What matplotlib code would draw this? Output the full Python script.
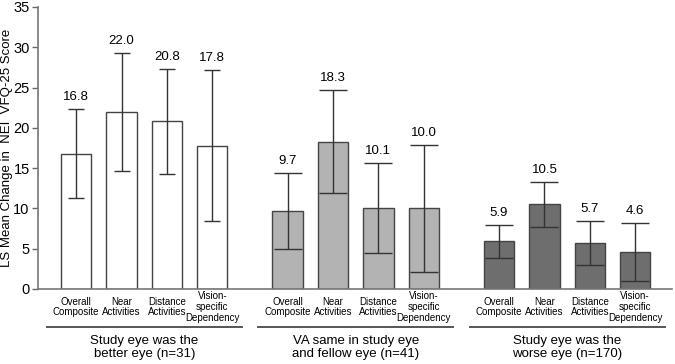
import matplotlib.pyplot as plt
from matplotlib import transforms

plt.rcParams.update({
    "font.family": ["Liberation Sans", "DejaVu Sans"],
    "axes.spines.top": False,
    "axes.spines.right": False,
})

# data
categories = ["Overall\nComposite", "Near\nActivities", "Distance\nActivities",
              "Vision-\nspecific\nDependency"]
groups = ["Study eye was the\nbetter eye (n=31)",
          "VA same in study eye\nand fellow eye (n=41)",
          "Study eye was the\nworse eye (n=170)"]
better_mean = [16.8, 22.0, 20.8, 17.8]
better_err = [5.5, 7.3, 6.5, 9.4]
same_mean = [9.7, 18.3, 10.1, 10.0]
same_err = [4.7, 6.4, 5.6, 7.9]
worse_mean = [5.9, 10.5, 5.7, 4.6]
worse_err = [2.05, 2.75, 2.7, 3.65]

means = [better_mean, same_mean, worse_mean]
errs = [better_err, same_err, worse_err]
colors = ["white", "#b3b3b3", "#6e6e6e"]
capsizes = [5.5, 10, 10]
group_gap = 4.66

fig = plt.figure(figsize=(6.75, 3.64), dpi=100)
ax = fig.add_axes([38 / 675, 75 / 364, 634 / 675, 282 / 364])
blend = transforms.blended_transform_factory(ax.transData, ax.transAxes)

for g in range(3):
    xs = [g * group_gap + i for i in range(4)]
    ax.bar(xs, means[g], width=0.67, color=colors[g], edgecolor="#444444",
           linewidth=1.0, zorder=2)
    ax.errorbar(xs, means[g], yerr=errs[g], fmt="none", ecolor="#333333",
                elinewidth=1.0, capsize=capsizes[g], capthick=1.0, zorder=3)
    for x, m, e in zip(xs, means[g], errs[g]):
        ax.annotate(f"{m:.1f}", xy=(x, m + e), xytext=(0, 6),
                    textcoords="offset pixels", ha="center", va="bottom",
                    fontsize=9.5)
    for x, c in zip(xs, categories):
        ax.annotate(c, xy=(x, 0), xycoords=blend, xytext=(0, -18),
                    textcoords="offset pixels", ha="center", va="center",
                    fontsize=7, linespacing=1.12)
    gc = g * group_gap + 1.5
    ax.plot([gc - 2.15, gc + 2.15], [-0.133, -0.133], transform=blend,
            color="#555555", linewidth=1.4, clip_on=False)
    ax.text(gc, -0.163, groups[g], transform=blend, ha="center", va="top",
            fontsize=9.5, linespacing=1.15)

ax.set_xlim(-0.84, 2 * group_gap + 3 + 0.81)
ax.set_ylim(0, 35)
ax.set_yticks(range(0, 36, 5))
ax.set_xticks([])
ax.tick_params(axis="y", labelsize=10.5, length=4, width=1.0, pad=2,
               color="#666666")
for s in ["left", "bottom"]:
    ax.spines[s].set_color("#777777")
    ax.spines[s].set_linewidth(1.2)
fig.text(7 / 675, 1 - 148 / 364, "LS Mean Change in  NEI  VFQ-25 Score",
         rotation=90, ha="center", va="center", fontsize=9.5)

fig.savefig("out.png", dpi=100)
